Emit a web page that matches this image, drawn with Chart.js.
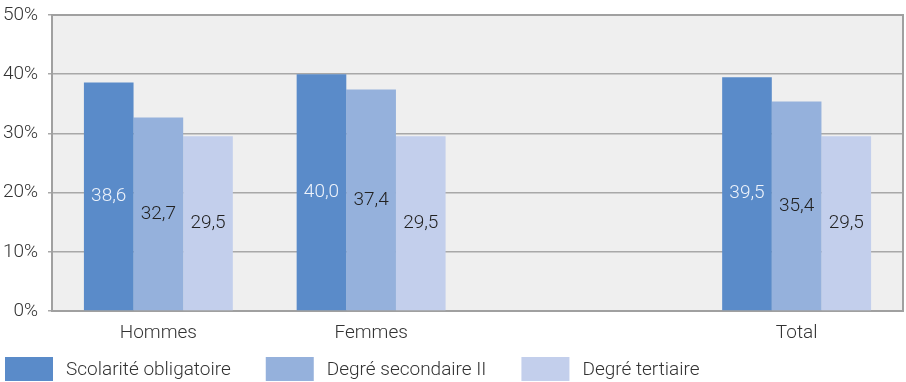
<!DOCTYPE html>
<html>
<head>
<meta charset="utf-8">
<script src="https://cdn.jsdelivr.net/npm/chart.js@4.4.1/dist/chart.umd.min.js"></script>
<style>
  html, body { margin: 0; padding: 0; background: #ffffff; }
  #wrap { width: 906px; height: 382px; }
</style>
</head>
<body>
<div id="wrap"><canvas id="c" width="906" height="382"></canvas></div>
<script>
const categories = ['Hommes', 'Femmes', '', 'Total'];
const seriesNames = ['Scolarité obligatoire', 'Degré secondaire II', 'Degré tertiaire'];
const scolariteObligatoire = [38.6, 40.0, null, 39.5];
const degreSecondaireII = [32.7, 37.4, null, 35.4];
const degreTertiaire = [29.5, 29.5, null, 29.5];
const yTicks = [0, 10, 20, 30, 40, 50];

const colors = ['#5a8bc9', '#95b1dc', '#c3cfec'];
const labelColors = ['#eef3fb', '#222222', '#222222'];
const FONT = 'Roboto, "Open Sans", sans-serif';
const FSIZE = 19;

const bgPlugin = {
  id: 'plotBg',
  beforeDraw(chart) {
    const { ctx, chartArea: a } = chart;
    ctx.save();
    ctx.fillStyle = '#efefef';
    ctx.fillRect(a.left, a.top, a.right - a.left, a.bottom - a.top);
    ctx.restore();
  },
  afterDatasetsDraw(chart) {
    const { ctx, chartArea: a } = chart;
    ctx.save();
    ctx.strokeStyle = '#a0a0a0';
    ctx.lineWidth = 2;
    ctx.beginPath();
    ctx.moveTo(a.left, a.top);
    ctx.lineTo(a.right, a.top);
    ctx.lineTo(a.right, a.bottom);
    ctx.stroke();
    // value labels at bar centres
    ctx.font = '300 ' + FSIZE + 'px ' + FONT;
    ctx.textAlign = 'center';
    ctx.textBaseline = 'middle';
    chart.data.datasets.forEach((ds, di) => {
      const meta = chart.getDatasetMeta(di);
      meta.data.forEach((bar, i) => {
        const v = ds.data[i];
        if (v === null || v === undefined) return;
        const yMid = (bar.y + bar.base) / 2;
        ctx.fillStyle = labelColors[di];
        ctx.fillText(v.toFixed(1).replace('.', ','), bar.x, yMid);
      });
    });
    ctx.restore();
  },
  afterDraw(chart) {
    // legend drawn from dataset labels / colours
    const { ctx } = chart;
    ctx.save();
    ctx.font = '300 ' + FSIZE + 'px ' + FONT;
    ctx.textBaseline = 'middle';
    ctx.textAlign = 'left';
    let x = 5;
    const yTop = 357, boxW = 48, boxH = 24;
    chart.data.datasets.forEach((ds) => {
      ctx.fillStyle = ds.backgroundColor;
      ctx.fillRect(x, yTop, boxW, boxH);
      ctx.fillStyle = '#333333';
      const tx = x + 61;
      ctx.fillText(ds.label, tx, yTop + boxH / 2 + 1);
      x = tx + ctx.measureText(ds.label).width + 35;
    });
    ctx.restore();
  }
};

new Chart(document.getElementById('c'), {
  type: 'bar',
  data: {
    labels: categories,
    datasets: [
      { label: seriesNames[0], data: scolariteObligatoire, backgroundColor: colors[0] },
      { label: seriesNames[1], data: degreSecondaireII, backgroundColor: colors[1] },
      { label: seriesNames[2], data: degreTertiaire, backgroundColor: colors[2] }
    ]
  },
  options: {
    responsive: false,
    animation: false,
    devicePixelRatio: 1,
    layout: { padding: { left: 0, right: 3, top: 15, bottom: 41 } },
    datasets: { bar: { categoryPercentage: 0.70, barPercentage: 1.0 } },
    plugins: {
      legend: { display: false },
      tooltip: { enabled: false }
    },
    scales: {
      x: {
        grid: { display: false, drawTicks: false, tickLength: 0 },
        border: { display: true, color: '#a0a0a0', width: 2 },
        ticks: { color: '#333333', font: { family: FONT, size: FSIZE, weight: '300' }, padding: 11 },
        afterFit(scale) { scale.height = 30; scale.paddingLeft = 0; scale.paddingRight = 0; }
      },
      y: {
        min: yTicks[0],
        max: yTicks[yTicks.length - 1],
        afterBuildTicks(scale) { scale.ticks = yTicks.map(v => ({ value: v })); },
        grid: { color: '#a8a8a8', lineWidth: 1.5, tickLength: 4, drawTicks: true },
        border: { display: true, color: '#a0a0a0', width: 2 },
        ticks: {
          color: '#333333',
          font: { family: FONT, size: FSIZE, weight: '300' },
          padding: 10,
          callback: (v) => v + '%'
        },
        afterFit(scale) { scale.width = 52; scale.paddingTop = 0; scale.paddingBottom = 0; }
      }
    }
  },
  plugins: [bgPlugin]
});
</script>
</body>
</html>
